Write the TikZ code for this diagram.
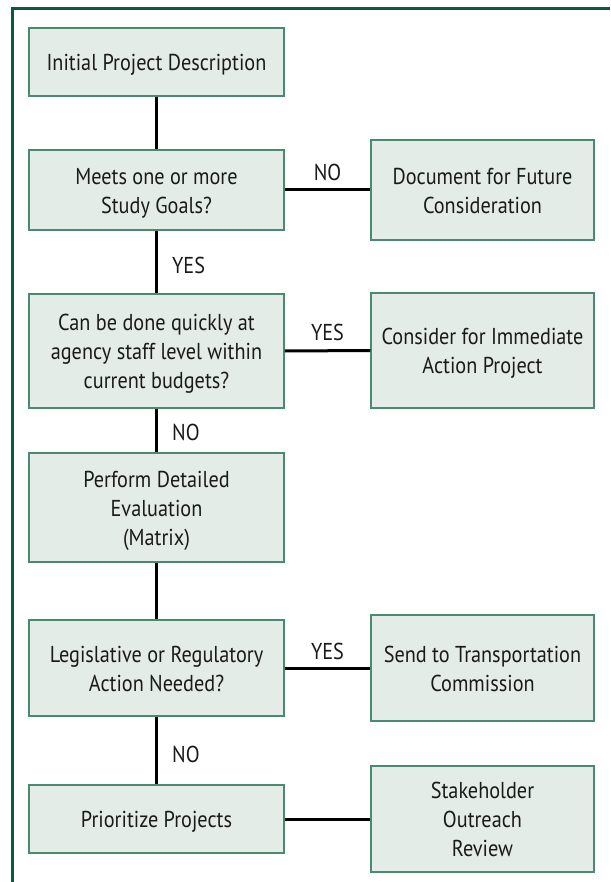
\documentclass[tikz,border=0pt]{standalone}
\usepackage{fontspec}
\setmainfont{PT Sans}[FakeStretch=0.88]
\definecolor{framegreen}{HTML}{0B5A3C}
\definecolor{boxedge}{HTML}{4A8A70}
\definecolor{boxfill}{HTML}{E4ECE8}
\definecolor{txt}{HTML}{1A1A1A}
\newcommand\boxtxt[1]{\raisebox{-3pt}[\height][\depth]{\begin{tabular}{@{}c@{}}#1\end{tabular}}}
\tikzset{
  fc/.style={draw=boxedge, line width=1.5pt, fill=boxfill, inner sep=0pt,
    text=txt, font=\fontsize{23}{29}\selectfont},
  conn/.style={draw=black, line width=3pt},
  lbl/.style={text=txt, font=\fontsize{23}{29}\selectfont, inner sep=0pt},
}
\begin{document}
\begin{tikzpicture}[x=1pt,y=-1pt]
\useasboundingbox (0,0) rectangle (610,882);
\fill[white] (0,0) rectangle (610,882);
\draw[framegreen, line width=2.5pt] (12.5,882) -- (12.5,8.5) -- (610,8.5);
% left column
\node[fc, minimum width=255pt, minimum height=68pt] (n1) at (156.5,62) {\boxtxt{Initial Project Description}};
\node[fc, minimum width=255pt, minimum height=80pt] (n2) at (156.5,190) {\boxtxt{Meets one or more\\Study Goals?}};
\node[fc, minimum width=255pt, minimum height=114pt] (n3) at (156.5,351) {\boxtxt{Can be done quickly at\\agency staff level within\\current budgets?}};
\node[fc, minimum width=255pt, minimum height=109pt] (n4) at (156.5,507.5) {\boxtxt{Perform Detailed\\Evaluation\\(Matrix)}};
\node[fc, minimum width=255pt, minimum height=96pt] (n5) at (156.5,668) {\boxtxt{Legislative or Regulatory\\Action Needed?}};
\node[fc, minimum width=255pt, minimum height=68pt] (n6) at (156.5,819) {\boxtxt{Prioritize Projects}};
% right column
\node[fc, minimum width=223pt, minimum height=100pt] (r1) at (482.5,190) {\boxtxt{Document for Future\\Consideration}};
\node[fc, minimum width=223pt, minimum height=115pt] (r2) at (482.5,350.5) {\boxtxt{Consider for Immediate\\Action Project}};
\node[fc, minimum width=223pt, minimum height=106pt] (r3) at (482.5,668) {\boxtxt{Send to Transportation\\Commission}};
\node[fc, minimum width=223pt, minimum height=106pt] (r4) at (482.5,819) {\boxtxt{Stakeholder\\Outreach\\Review}};
% connectors
\draw[conn] (n1.south) -- (n2.north);
\draw[conn] (n2.south) -- (n3.north);
\draw[conn] (n3.south) -- (n4.north);
\draw[conn] (n4.south) -- (n5.north);
\draw[conn] (n5.south) -- (n6.north);
\draw[conn] (n2.east) -- (r1.west);
\draw[conn] (n3.east) -- (r2.west);
\draw[conn] (n5.east) -- (r3.west);
\draw[conn] (n6.east) -- (r4.west);
% labels
\node[lbl, anchor=west] (l1) at (172,265) {YES};
\node[lbl, anchor=west] (l2) at (172,432) {NO};
\node[lbl, anchor=west] (l3) at (172,754) {NO};
\node[lbl] (l4) at (327.5,172) {NO};
\node[lbl] (l5) at (327.5,332) {YES};
\node[lbl] (l6) at (327.5,651) {YES};
\end{tikzpicture}
\end{document}
